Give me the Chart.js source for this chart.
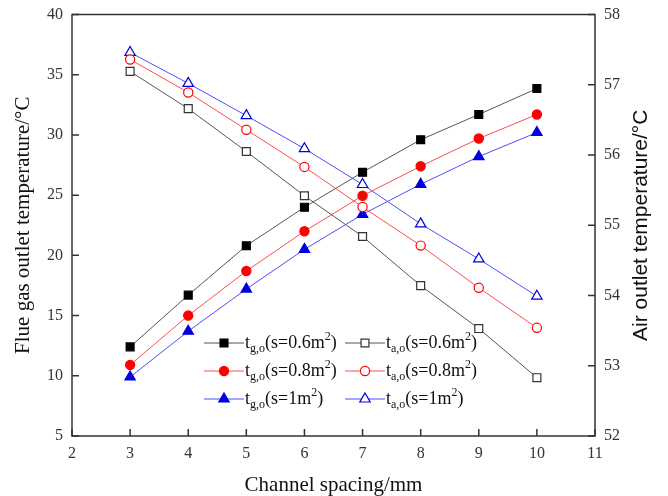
<!DOCTYPE html>
<html lang="en">
<head>
  <meta charset="UTF-8">
  <title>Channel spacing vs outlet temperature</title>
  <script src="https://cdn.jsdelivr.net/npm/chart.js"></script>
  <style>
    html, body { margin: 0; padding: 0; background: #fff; }
    #wrap { width: 668px; height: 496px; }
  </style>
</head>
<body>
  <div id="wrap"><canvas id="chart" width="668" height="496"></canvas></div>

  <script>
    // channel spacing (mm)
    const spacing = [3, 4, 5, 6, 7, 8, 9, 10];

    // flue gas outlet temperature (left axis)
    const tg06 = [12.4, 16.7, 20.8, 24.0, 26.9, 29.6, 31.7, 33.85];
    const tg08 = [10.9, 15.0, 18.7, 22.0, 24.95, 27.4, 29.7, 31.7];
    const tg10 = [9.9, 13.7, 17.2, 20.5, 23.4, 25.9, 28.2, 30.2];

    // air outlet temperature (right axis)
    const ta06 = [57.19, 56.66, 56.05, 55.42, 54.84, 54.14, 53.53, 52.83];
    const ta08 = [57.36, 56.89, 56.36, 55.83, 55.26, 54.71, 54.11, 53.54];
    const ta10 = [57.46, 57.02, 56.56, 56.09, 55.58, 55.02, 54.52, 53.99];

    const leftTicks = [5, 10, 15, 20, 25, 30, 35, 40];
    const rightTicks = [52, 53, 54, 55, 56, 57, 58];
    const xTicks = [2, 3, 4, 5, 6, 7, 8, 9, 10, 11];

    const rightTitle = 'Air outlet temperature/°C';

    const pts = arr => arr.map((v, i) => ({ x: spacing[i], y: v }));

    function ds(label, data, axis, line, mark, style, filled, r) {
      return {
        label, data: pts(data), yAxisID: axis,
        borderColor: line, borderWidth: 1,
        pointStyle: style, pointRadius: r, pointHoverRadius: r,
        pointBorderColor: mark, pointBorderWidth: 1.2,
        pointBackgroundColor: filled ? mark : '#fff',
        _mark: mark, _filled: filled
      };
    }

    const datasets = [
      ds('t_{g,o}(s=0.6m^2)', tg06, 'y', '#555', '#000', 'rect', true, 5.6),
      ds('t_{a,o}(s=0.6m^2)', ta06, 'y2', '#555', '#333', 'rect', false, 5.6),
      ds('t_{g,o}(s=0.8m^2)', tg08, 'y', '#ff4d4d', '#ff0000', 'circle', true, 4.6),
      ds('t_{a,o}(s=0.8m^2)', ta08, 'y2', '#ff4d4d', '#ff0000', 'circle', false, 4.6),
      ds('t_{g,o}(s=1m^2)', tg10, 'y', '#4d4dff', '#0000dd', 'triangle', true, 6),
      ds('t_{a,o}(s=1m^2)', ta10, 'y2', '#4d4dff', '#0000dd', 'triangle', false, 6)
    ];

    // frame + inward tick marks + right title (reads bottom to top)
    const framePlugin = {
      id: 'frame',
      afterDraw(chart) {
        const { ctx, chartArea: a, scales } = chart;
        ctx.save();
        ctx.strokeStyle = '#333';
        ctx.lineWidth = 1.5;
        ctx.strokeRect(a.left, a.top, a.right - a.left, a.bottom - a.top);
        ctx.beginPath();
        leftTicks.forEach(v => {
          const y = scales.y.getPixelForValue(v);
          ctx.moveTo(a.left, y); ctx.lineTo(a.left + 7, y);
        });
        rightTicks.forEach(v => {
          const y = scales.y2.getPixelForValue(v);
          ctx.moveTo(a.right, y); ctx.lineTo(a.right - 7, y);
        });
        xTicks.forEach(v => {
          const x = scales.x.getPixelForValue(v);
          ctx.moveTo(x, a.bottom); ctx.lineTo(x, a.bottom - 7);
        });
        ctx.stroke();

        ctx.translate(a.right + 46, (a.top + a.bottom) / 2);
        ctx.rotate(-Math.PI / 2);
        ctx.font = '21px "Liberation Sans", Arial, sans-serif';
        ctx.fillStyle = '#111';
        ctx.textAlign = 'center';
        ctx.textBaseline = 'middle';
        ctx.fillText(rightTitle, 0, 0);
        ctx.restore();
      }
    };

    function drawMarker(ctx, style, x, y, r, fill, stroke) {
      ctx.beginPath();
      if (style === 'rect') {
        const s = Math.SQRT1_2 * r;
        ctx.rect(x - s, y - s, 2 * s, 2 * s);
      } else if (style === 'circle') {
        ctx.arc(x, y, r, 0, Math.PI * 2);
      } else {
        ctx.moveTo(x, y - r);
        ctx.lineTo(x + r * 0.866, y + r * 0.5);
        ctx.lineTo(x - r * 0.866, y + r * 0.5);
        ctx.closePath();
      }
      ctx.fillStyle = fill;
      ctx.fill();
      ctx.lineWidth = 1.2;
      ctx.strokeStyle = stroke;
      ctx.stroke();
    }

    // label text with _{sub} and ^sup
    function drawRich(ctx, text, x, y) {
      const parts = text.split(/(_\{[^}]*\}|\^\w)/).filter(s => s);
      ctx.textBaseline = 'middle';
      ctx.textAlign = 'left';
      ctx.fillStyle = '#111';
      parts.forEach(p => {
        let t = p, dy = 0, f = '18px "Liberation Serif", serif';
        if (p.startsWith('_{')) { t = p.slice(2, -1); dy = 6; f = '12px "Liberation Serif", serif'; }
        else if (p.startsWith('^')) { t = p.slice(1); dy = -6; f = '12px "Liberation Serif", serif'; }
        ctx.font = f;
        ctx.fillText(t, x, y + dy);
        x += ctx.measureText(t).width;
      });
    }

    const legendPlugin = {
      id: 'richLegend',
      afterDraw(chart) {
        const { ctx } = chart;
        const rows = [343, 371, 399];
        const cols = [204, 345];
        ctx.save();
        chart.data.datasets.forEach((d, i) => {
          const x0 = cols[i % 2], y = rows[Math.floor(i / 2)];
          ctx.beginPath();
          ctx.strokeStyle = d.borderColor;
          ctx.lineWidth = 1;
          ctx.moveTo(x0, y); ctx.lineTo(x0 + 40, y);
          ctx.stroke();
          drawMarker(ctx, d.pointStyle, x0 + 20, y, d.pointRadius, d._filled ? d._mark : '#fff', d._mark);
          drawRich(ctx, d.label, x0 + 41, y);
        });
        ctx.restore();
      }
    };

    const tickFont = { family: '"Liberation Serif", serif', size: 16 };
    const titleFont = { family: '"Liberation Serif", "Times New Roman", serif', size: 21, lineHeight: 1 };

    new Chart(document.getElementById('chart'), {
      type: 'line',
      data: { datasets },
      options: {
        responsive: false,
        animation: false,
        layout: { padding: { top: 14.5, left: 0, right: 0, bottom: 0 } },
        plugins: { legend: { display: false }, tooltip: { enabled: false } },
        scales: {
          x: {
            type: 'linear', min: 2, max: 11,
            ticks: { stepSize: 1, font: tickFont, color: '#333', padding: 8, maxRotation: 0 },
            grid: { display: false, drawTicks: false },
            border: { display: false },
            title: { display: true, text: 'Channel spacing/mm', color: '#111',
              font: titleFont, padding: { top: 0, bottom: 0 } },
            afterFit: s => { s.height = 60; }
          },
          y: {
            position: 'left', min: 5, max: 40,
            ticks: { stepSize: 5, font: tickFont, color: '#333', padding: 9 },
            grid: { display: false, drawTicks: false },
            border: { display: false },
            title: { display: true, text: 'Flue gas outlet temperature/°C', color: '#111',
              font: titleFont, padding: { top: 13, bottom: 0 } },
            afterFit: s => { s.width = 72; s.paddingTop = 0; }
          },
          y2: {
            position: 'right', min: 52, max: 58,
            ticks: { stepSize: 1, font: tickFont, color: '#333', padding: 9 },
            grid: { display: false, drawTicks: false },
            border: { display: false },
            afterFit: s => { s.width = 73; s.paddingTop = 0; }
          }
        }
      },
      plugins: [framePlugin, legendPlugin]
    });
  </script>
</body>
</html>
